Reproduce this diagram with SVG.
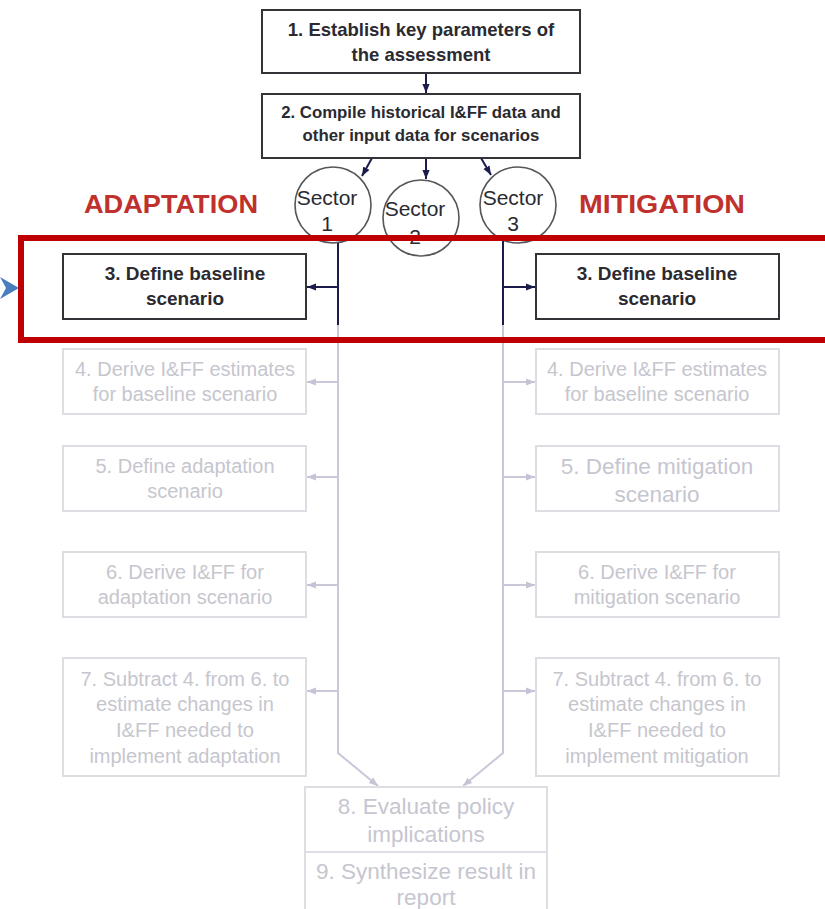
<svg xmlns="http://www.w3.org/2000/svg" width="825" height="909" viewBox="0 0 825 909">
<defs>
<style>
.bg{fill:#ffffff}
.dbox{fill:#ffffff;stroke:#333338;stroke-width:2}
.lbox{fill:#ffffff;stroke:#dddde3;stroke-width:2}
.dt{font-family:"Liberation Sans",Arial,sans-serif;font-weight:bold;font-size:18.5px;fill:#2a2a30;text-anchor:middle}
.dt.sm{font-size:16.8px}
.dt.md{font-size:19px}
.lt{font-family:"Liberation Sans",Arial,sans-serif;font-size:20px;fill:#c6c6ce;text-anchor:middle}
.lt2{font-family:"Liberation Sans",Arial,sans-serif;font-size:22.5px;fill:#c6c6d0;text-anchor:middle}
.title{font-family:"Liberation Sans",Arial,sans-serif;font-weight:bold;font-size:26px;fill:#c0302c}
.sec{fill:#ffffff;stroke:#55555a;stroke-width:1.6}
.st{font-family:"Liberation Sans",Arial,sans-serif;font-size:21px;fill:#2a2a30;text-anchor:middle}
.dl{fill:none;stroke:#1c1c4c;stroke-width:2}
.ll{fill:none;stroke:#c8c8d8;stroke-width:2}
</style>
<marker id="ad" viewBox="0 0 10 10" refX="10" refY="5" markerWidth="9" markerHeight="9" markerUnits="userSpaceOnUse" orient="auto"><path d="M0,1 L10,5 L0,9 z" fill="#1c1c4c"/></marker>
<marker id="al" viewBox="0 0 10 10" refX="10" refY="5" markerWidth="9" markerHeight="9" markerUnits="userSpaceOnUse" orient="auto"><path d="M0,1 L10,5 L0,9 z" fill="#c4c4d6"/></marker>
</defs>
<rect class="bg" x="0" y="0" width="825" height="909"/>

<g id="connectors">
<line class="dl" x1="426" y1="73" x2="426" y2="93" marker-end="url(#ad)"/>
<line class="dl" x1="372" y1="158" x2="362" y2="176" marker-end="url(#ad)"/>
<line class="dl" x1="426" y1="158" x2="426" y2="179" marker-end="url(#ad)"/>
<line class="dl" x1="481" y1="158" x2="491" y2="175" marker-end="url(#ad)"/>
<line class="dl" x1="338" y1="243" x2="338" y2="325"/>
<line class="dl" x1="503" y1="240" x2="503" y2="325"/>
<line class="dl" x1="338" y1="287" x2="307" y2="287" marker-end="url(#ad)"/>
<line class="dl" x1="503" y1="287" x2="535" y2="287" marker-end="url(#ad)"/>
<path class="ll" d="M338,325 V753 L378,786" marker-end="url(#al)"/>
<path class="ll" d="M503,325 V753 L463,786" marker-end="url(#al)"/>
<line class="ll" x1="338" y1="382" x2="307" y2="382" marker-end="url(#al)"/>
<line class="ll" x1="338" y1="477" x2="307" y2="477" marker-end="url(#al)"/>
<line class="ll" x1="338" y1="585" x2="307" y2="585" marker-end="url(#al)"/>
<line class="ll" x1="338" y1="691" x2="307" y2="691" marker-end="url(#al)"/>
<line class="ll" x1="503" y1="382" x2="535" y2="382" marker-end="url(#al)"/>
<line class="ll" x1="503" y1="477" x2="535" y2="477" marker-end="url(#al)"/>
<line class="ll" x1="503" y1="585" x2="535" y2="585" marker-end="url(#al)"/>
<line class="ll" x1="503" y1="691" x2="535" y2="691" marker-end="url(#al)"/>
</g>

<g id="step1">
<rect class="dbox" x="262" y="10" width="318" height="63"/>
<text class="dt" x="421" y="36">1. Establish key parameters of</text>
<text class="dt" x="421" y="61">the assessment</text>
</g>
<g id="step2">
<rect class="dbox" x="262" y="94" width="318" height="64"/>
<text class="dt sm" x="421" y="118">2. Compile historical I&amp;FF data and</text>
<text class="dt sm" x="421" y="141">other input data for scenarios</text>
</g>

<g id="label-adaptation"><text class="title" x="84" y="213" textLength="174" lengthAdjust="spacingAndGlyphs">ADAPTATION</text></g>
<g id="label-mitigation"><text class="title" x="579" y="213" textLength="166" lengthAdjust="spacingAndGlyphs">MITIGATION</text></g>

<g id="sector1">
<circle class="sec" cx="333" cy="205" r="38"/>
<text class="st" x="327" y="205">Sector</text>
<text class="st" x="327" y="231">1</text>
</g>
<g id="sector2">
<circle class="sec" cx="421" cy="218" r="38"/>
<text class="st" x="415" y="216">Sector</text>
<text class="st" x="415" y="244">2</text>
</g>
<g id="sector3">
<circle class="sec" cx="518" cy="205" r="38"/>
<text class="st" x="513" y="205">Sector</text>
<text class="st" x="513" y="231">3</text>
</g>

<g id="step3-adapt">
<rect class="dbox" x="63" y="254" width="243" height="65"/>
<text class="dt md" x="185" y="280">3. Define baseline</text>
<text class="dt md" x="185" y="305">scenario</text>
</g>
<g id="step3-mitig">
<rect class="dbox" x="536" y="254" width="243" height="65"/>
<text class="dt md" x="657" y="280">3. Define baseline</text>
<text class="dt md" x="657" y="305">scenario</text>
</g>

<g id="step4-adapt">
<rect class="lbox" x="63" y="349" width="243" height="65"/>
<text class="lt" x="185" y="376">4. Derive I&amp;FF estimates</text>
<text class="lt" x="185" y="401">for baseline scenario</text>
</g>
<g id="step4-mitig">
<rect class="lbox" x="536" y="349" width="243" height="65"/>
<text class="lt" x="657" y="376">4. Derive I&amp;FF estimates</text>
<text class="lt" x="657" y="401">for baseline scenario</text>
</g>
<g id="step5-adapt">
<rect class="lbox" x="63" y="446" width="243" height="65"/>
<text class="lt" x="185" y="473">5. Define adaptation</text>
<text class="lt" x="185" y="498">scenario</text>
</g>
<g id="step5-mitig">
<rect class="lbox" x="536" y="446" width="243" height="65"/>
<text class="lt2" x="657" y="474">5. Define mitigation</text>
<text class="lt2" x="657" y="502">scenario</text>
</g>
<g id="step6-adapt">
<rect class="lbox" x="63" y="552" width="243" height="65"/>
<text class="lt" x="185" y="579">6. Derive I&amp;FF for</text>
<text class="lt" x="185" y="604">adaptation scenario</text>
</g>
<g id="step6-mitig">
<rect class="lbox" x="536" y="552" width="243" height="65"/>
<text class="lt" x="657" y="579">6. Derive I&amp;FF for</text>
<text class="lt" x="657" y="604">mitigation scenario</text>
</g>
<g id="step7-adapt">
<rect class="lbox" x="63" y="658" width="243" height="118"/>
<text class="lt" x="185" y="686">7. Subtract 4. from 6. to</text>
<text class="lt" x="185" y="711">estimate changes in</text>
<text class="lt" x="185" y="737">I&amp;FF needed to</text>
<text class="lt" x="185" y="763">implement adaptation</text>
</g>
<g id="step7-mitig">
<rect class="lbox" x="536" y="658" width="243" height="118"/>
<text class="lt" x="657" y="686">7. Subtract 4. from 6. to</text>
<text class="lt" x="657" y="711">estimate changes in</text>
<text class="lt" x="657" y="737">I&amp;FF needed to</text>
<text class="lt" x="657" y="763">implement mitigation</text>
</g>

<g id="step8">
<rect class="lbox" x="305" y="787" width="242" height="65"/>
<text class="lt2" x="426" y="814">8. Evaluate policy</text>
<text class="lt2" x="426" y="842">implications</text>
</g>
<g id="step9">
<rect class="lbox" x="305" y="852" width="242" height="70"/>
<text class="lt2" x="426" y="879">9. Synthesize result in</text>
<text class="lt2" x="426" y="905">report</text>
</g>

<g id="highlight">
<rect x="21" y="238" width="820" height="102" fill="none" stroke="#c00000" stroke-width="6"/>
<path d="M0,277 L19,288 L0,299 L6,288 z" fill="#4a7cc0"/>
</g>
</svg>
